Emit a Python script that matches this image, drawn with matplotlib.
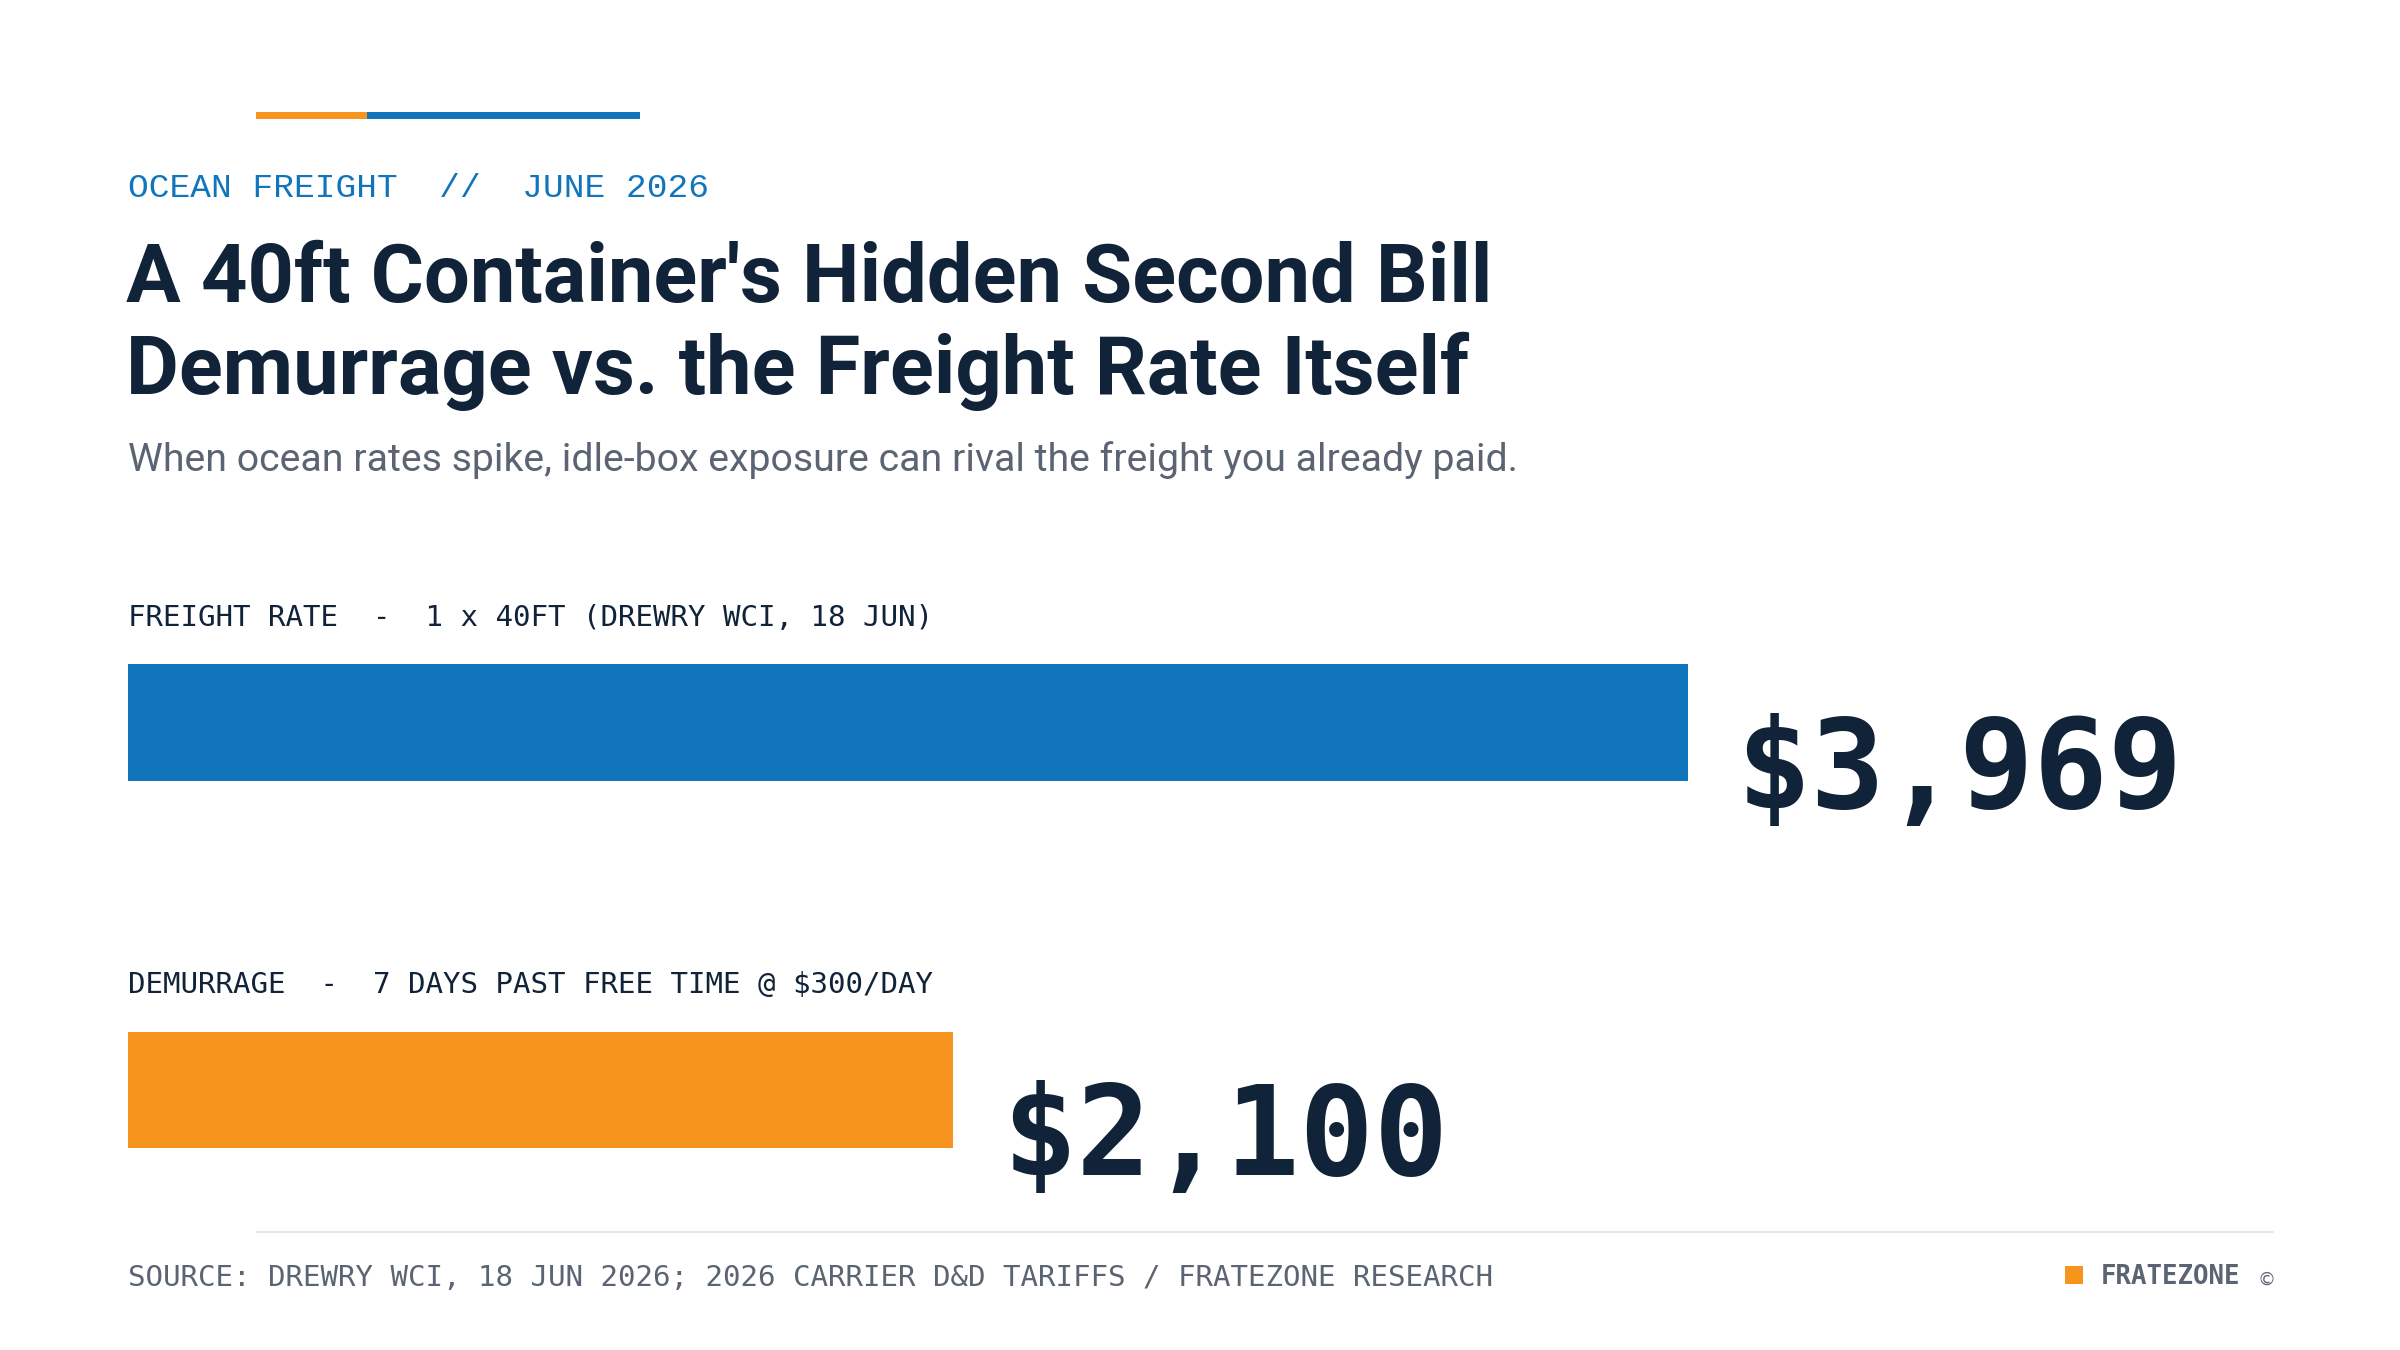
import matplotlib
matplotlib.use("Agg")
import matplotlib.pyplot as plt
from matplotlib.patches import Rectangle
from matplotlib.lines import Line2D

# ---- data ----
categories = ["FREIGHT RATE  -  1 x 40FT (DREWRY WCI, 18 JUN)",
              "DEMURRAGE  -  7 DAYS PAST FREE TIME @ $300/DAY"]
values = [3969, 2100]
value_labels = ["$3,969", "$2,100"]
bar_colors = ["#1175BC", "#F7941E"]

kicker = "OCEAN FREIGHT  //  JUNE 2026"
title_lines = ["A 40ft Container's Hidden Second Bill",
               "Demurrage vs. the Freight Rate Itself"]
subtitle = "When ocean rates spike, idle-box exposure can rival the freight you already paid."
source = "SOURCE: DREWRY WCI, 18 JUN 2026; 2026 CARRIER D&D TARIFFS / FRATEZONE RESEARCH"
brand = "FRATEZONE"

NAVY = "#112338"
GRAY = "#5B6472"
BLUE = "#1175BC"
ORANGE = "#F7941E"

W, H = 2400, 1350
fig = plt.figure(figsize=(24, 13.5), dpi=100)
fig.patch.set_facecolor("white")


def fx(x):
    return x / W


def fy(y):
    return 1 - y / H


# accent bar on top
fig.patches.append(Rectangle((fx(256), fy(119)), fx(367) - fx(256), (119 - 112) / H,
                             transform=fig.transFigure, color=ORANGE, lw=0))
fig.patches.append(Rectangle((fx(367), fy(119)), fx(640) - fx(367), (119 - 112) / H,
                             transform=fig.transFigure, color=BLUE, lw=0))

# kicker
fig.text(fx(128), fy(197), kicker, family="Liberation Mono", fontsize=24.8,
         color=BLUE, ha="left", va="baseline")

# title
for line, base in zip(title_lines, [302, 394]):
    fig.text(fx(126), fy(base), line, family="Roboto", fontweight="bold",
             fontsize=58.5, color=NAVY, ha="left", va="baseline")

# subtitle
fig.text(fx(128), fy(471), subtitle, family="Roboto", fontsize=28.3,
         color=GRAY, ha="left", va="baseline")

# bars
ax = fig.add_axes([fx(128), 1 - 1273.75 / H, 2144 / W, 735 / H])
ypos = list(range(len(values)))
ax.barh(ypos, values, height=0.318, color=bar_colors, linewidth=0)
ax.set_xlim(0, 5455)
ax.set_ylim(1.5, -0.5)
ax.axis("off")

for i, (v, lab, cat) in enumerate(zip(values, value_labels, categories)):
    ax.annotate(lab, xy=(v, i), xytext=(35, -61.5), textcoords="offset points",
                family="DejaVu Sans Mono", fontweight="bold", fontsize=89,
                color=NAVY, ha="left", va="baseline", annotation_clip=False)
    ax.annotate(cat, xy=(0, i), xytext=(0, 69.5), textcoords="offset points",
                family="DejaVu Sans Mono", fontsize=21, color=NAVY,
                ha="left", va="baseline", annotation_clip=False)

# footer
fig.lines.append(Line2D([fx(257), fx(2273)], [fy(1232), fy(1232)],
                        transform=fig.transFigure, color="#E3E6EA", lw=1.5))
fig.text(fx(128), fy(1286), source, family="DejaVu Sans Mono", fontsize=21,
         color=GRAY, ha="left", va="baseline")
fig.patches.append(Rectangle((fx(2065), fy(1284)), fx(2083) - fx(2065), 18 / H,
                             transform=fig.transFigure, color=ORANGE, lw=0))
fig.text(fx(2101), fy(1284), brand, family="DejaVu Sans Mono", fontweight="bold",
         fontsize=18.5, color=GRAY, ha="left", va="baseline")
fig.text(fx(2257), fy(1285), "\u00a9", family="DejaVu Sans", fontsize=13,
         color=GRAY, ha="left", va="baseline")

fig.savefig("out.png", dpi=100, facecolor="white")
